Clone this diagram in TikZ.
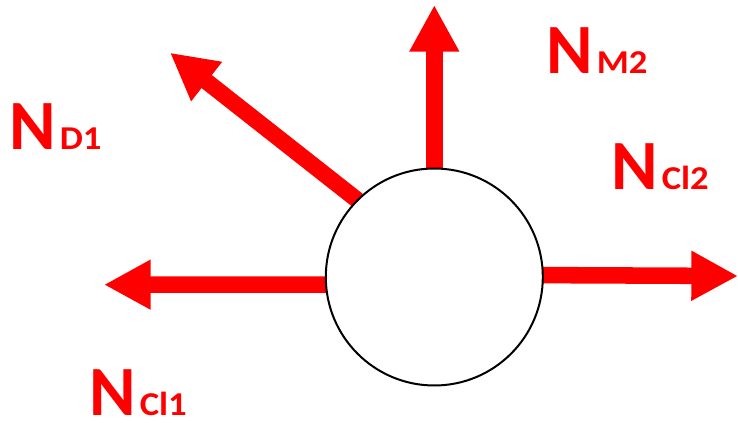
\documentclass[tikz,border=0pt]{standalone}
\usepackage{fontspec}
\setmainfont{Carlito}
\usepackage{tikz}
\usetikzlibrary{arrows.meta}

\pgfdeclarelayer{fond}
\pgfsetlayers{fond,main}

\newcommand{\Nforce}[1]{{\fontsize{53}{53}\selectfont N}\hspace{3pt}\scalebox{1.1}[1]{\fontsize{25}{25}\selectfont #1}}

\tikzset{
    force/.style={draw=red, line width=12.4pt, -{Triangle[length=35pt, width=35pt]}},
    corps/.style={circle, draw, fill=white, line width=1.5pt, minimum size=162.75pt, inner sep=0pt, outer sep=0pt},
    etiquette/.style={text=red, font=\bfseries, anchor=base west, inner sep=0pt}
}

\begin{document}
\begin{tikzpicture}[x=0.75pt, y=-0.75pt]
    \useasboundingbox (0,0) rectangle (738,423);

    % Corps
    \node[corps] (corps) at (434.3,277) {};

    % Extremites des forces
    \coordinate (pM2) at (434.3,5);
    \coordinate (pD1) at (170,52.7);
    \coordinate (pCl1) at (104,284.7);
    \coordinate (pCl2) at (738,276);

    % Forces
    \begin{pgfonlayer}{fond}
        \draw[force] (corps.north) -- (pM2);
        \draw[force] (corps.135) -- (pD1);
        \draw[force] (corps.184) -- (pCl1);
        \draw[force] (corps.1) -- (pCl2);
    \end{pgfonlayer}

    % Etiquettes
    \node[etiquette] (lM2) at (546,73.3) {\Nforce{M2}};
    \node[etiquette] (lD1) at (9,150) {\Nforce{D1}};
    \node[etiquette] (lCl2) at (611,190) {\Nforce{Cl2}};
    \node[etiquette] (lCl1) at (89,415) {\Nforce{Cl1}};
\end{tikzpicture}
\end{document}
